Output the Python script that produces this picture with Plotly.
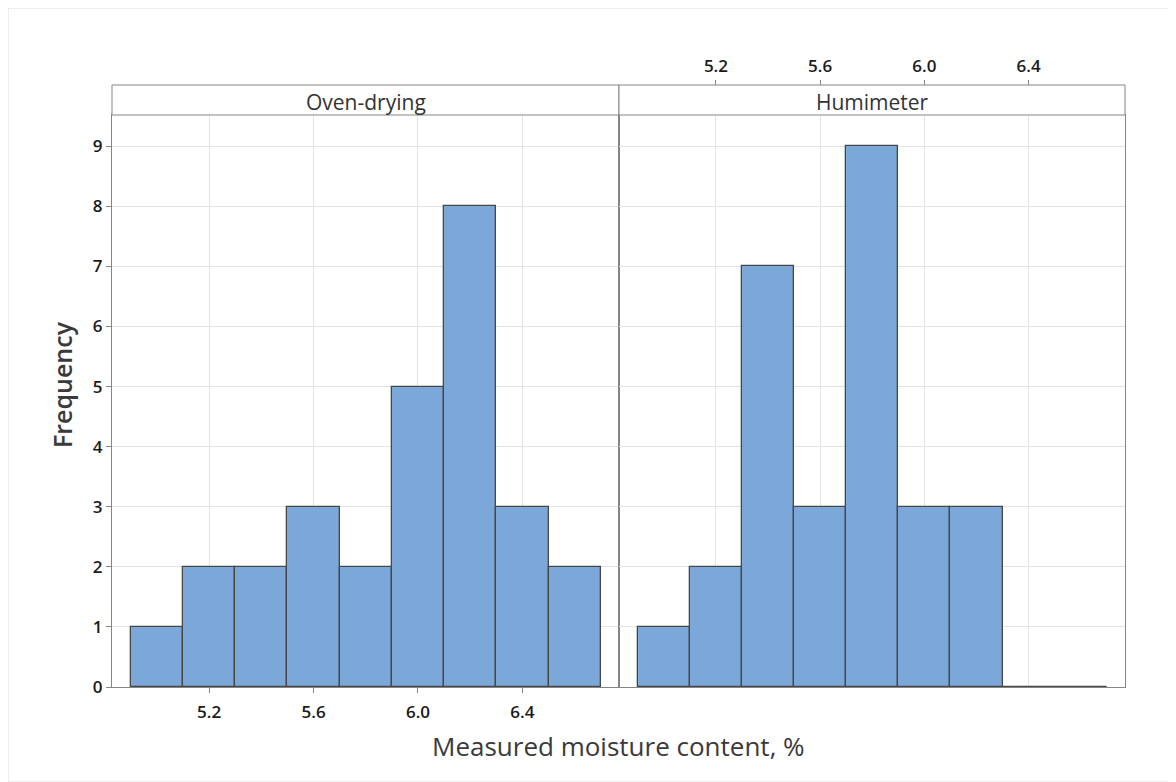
import plotly.graph_objects as go

# histogram bins (centre of each 0.2-wide bin)
bin_centers = [5.0, 5.2, 5.4, 5.6, 5.8, 6.0, 6.2, 6.4, 6.6]
bin_width = 0.2
oven_counts = [1, 2, 2, 3, 2, 5, 8, 3, 2]
humi_counts = [1, 2, 7, 3, 9, 3, 3, 0, 0]
panel_names = ["Oven-drying", "Humimeter"]
x_ticks = [5.2, 5.6, 6.0, 6.4]
y_ticks = list(range(0, 10))

# page body adds an 8px offset, so the figure is drawn 8px smaller
W, H = 1168, 774
ML, MT = 104, 77
plot_w = 1013
plot_h = 602
MR = W - ML - plot_w
MB = H - MT - plot_h
split = 507 / plot_w
y_top = (687 - 115) / plot_h

bar_color = "#7BA7D9"
edge_color = "#474747"
frame_color = "#858585"
grid_color = "#e3e3e3"
font_family = "Open Sans, Noto Sans, sans-serif"
x_range = [4.828, 6.770]
y_range = [0, 9.52]

fig = go.Figure()
fig.add_trace(go.Bar(x=bin_centers, y=oven_counts, width=bin_width,
                     marker=dict(color=bar_color, line=dict(color=edge_color, width=1.3)),
                     xaxis="x", yaxis="y", showlegend=False))
fig.add_trace(go.Bar(x=bin_centers, y=humi_counts, width=bin_width,
                     marker=dict(color=bar_color, line=dict(color=edge_color, width=1.3)),
                     xaxis="x2", yaxis="y2", showlegend=False))

# empty bins on the right still show a flat edge at zero
empty = [c for c, n in zip(bin_centers, humi_counts) if n == 0]
if empty:
    fig.add_trace(go.Scatter(x=[empty[0] - bin_width / 2, empty[-1] + bin_width / 2], y=[0, 0],
                             mode="lines", line=dict(color=edge_color, width=1.5),
                             xaxis="x2", yaxis="y2", showlegend=False, hoverinfo="skip"))

tick_font = dict(family=font_family, size=17, color="#1a1a1a", weight=600)
common_x = dict(range=x_range, tickvals=x_ticks, ticktext=[f"{v:.1f}" for v in x_ticks],
                showgrid=True, gridcolor=grid_color, gridwidth=1, zeroline=False,
                showline=True, linecolor=frame_color, linewidth=1, mirror=True,
                tickfont=tick_font, tickcolor=frame_color, ticklen=5)
common_y = dict(range=y_range, tickvals=y_ticks, domain=[0, y_top],
                showgrid=True, gridcolor=grid_color, gridwidth=1, zeroline=False,
                showline=True, linecolor=frame_color, linewidth=1, mirror=True,
                tickfont=tick_font, tickcolor=frame_color, ticklen=5)

fig.update_layout(
    width=W, height=H,
    margin=dict(l=ML, r=MR, t=MT, b=MB),
    paper_bgcolor="white", plot_bgcolor="white",
    bargap=0,
    xaxis=dict(common_x, domain=[0, split], anchor="y", ticks="outside", ticklabelstandoff=5),
    yaxis=dict(common_y, anchor="x", ticks="outside"),
    xaxis2=dict(common_x, domain=[split, 1], anchor="y2", ticks="", showticklabels=False),
    yaxis2=dict(common_y, anchor="x2", ticks="", showticklabels=False),
    xaxis3=dict(range=x_range, tickvals=x_ticks, ticktext=[f"{v:.1f}" for v in x_ticks],
                domain=[split, 1], anchor="free", position=1, overlaying="x2", side="top",
                showgrid=False, zeroline=False, showline=False, ticks="outside",
                ticklabelstandoff=1,
                tickfont=tick_font, tickcolor=frame_color, ticklen=5),
)

# dummy trace so the top axis gets drawn
fig.add_trace(go.Scatter(x=[], y=[], xaxis="x3", yaxis="y2", showlegend=False))

# strip headers
bounds = [(0, split), (split, 1)]
for name, (x0, x1) in zip(panel_names, bounds):
    fig.add_shape(type="rect", xref="paper", yref="paper", x0=x0, x1=x1, y0=y_top, y1=1,
                  line=dict(color=frame_color, width=1), fillcolor="white")
    fig.add_annotation(text=name, xref="paper", yref="paper", x=(x0 + x1) / 2, y=(1 + y_top) / 2 - 2 / plot_h,
                       xanchor="center", yanchor="middle", showarrow=False,
                       font=dict(family=font_family, size=21, color="#333333"))

# axis titles
fig.add_annotation(text="Frequency", xref="paper", yref="paper", x=-50 / plot_w, y=(687 - 385) / plot_h,
                   textangle=-90, showarrow=False, xanchor="center", yanchor="middle",
                   font=dict(family=font_family, size=25, color="#3a3a3a", weight=600))
fig.add_annotation(text="Measured moisture content, %", xref="paper", yref="paper",
                   x=(618 - 8 - ML) / plot_w, y=-(746 - 687) / plot_h, showarrow=False,
                   xanchor="center", yanchor="middle",
                   font=dict(family=font_family, size=26, color="#3a3a3a"))

# outer light border
fig.add_shape(type="rect", xref="paper", yref="paper",
              x0=-ML / plot_w, x1=1 + (MR - 1) / plot_w,
              y0=-MB / plot_h, y1=1 + MT / plot_h,
              line=dict(color="#dddddd", width=1))

fig.write_html("out.html")
